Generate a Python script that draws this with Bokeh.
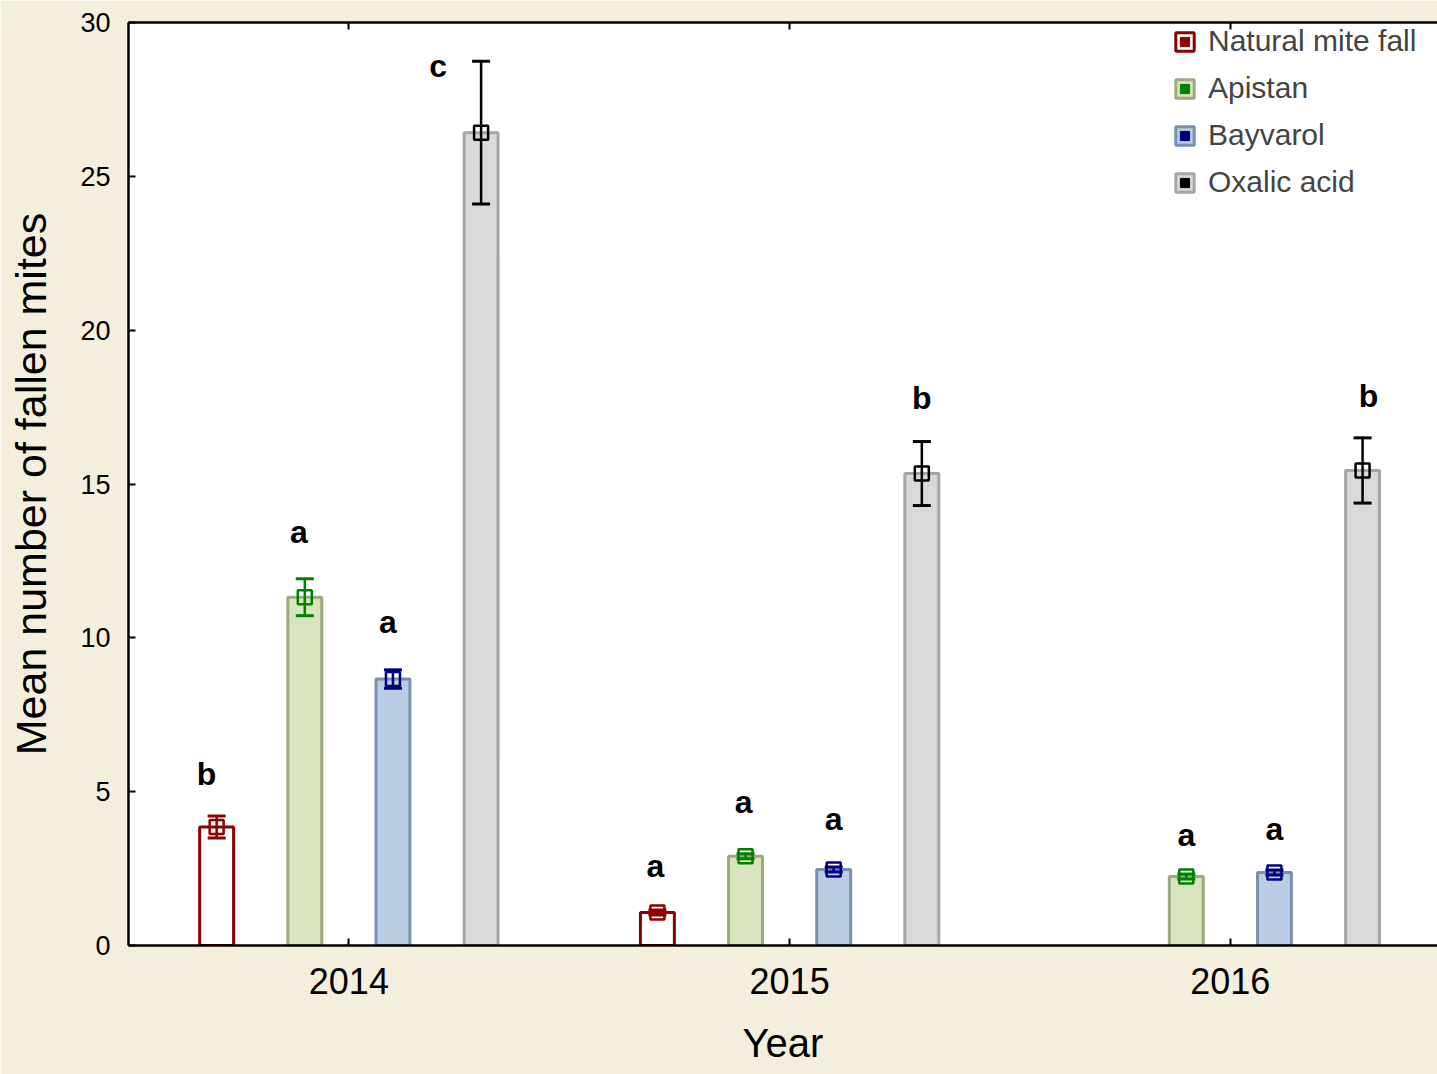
import numpy as np
from bokeh.plotting import figure
from bokeh.models import (ColumnDataSource, Range1d, FixedTicker, LinearAxis, Whisker,
                          TeeHead, Legend, LegendItem)
from bokeh.core.properties import value
from bokeh.embed import file_html
from bokeh.resources import INLINE

# ---------------- data ----------------
years = ["2014", "2015", "2016"]
treatments = ["Natural mite fall", "Apistan", "Bayvarol", "Oxalic acid"]

natural = [3.85, 1.07, np.nan]
natural_err = [0.36, 0.08, np.nan]
apistan = [11.32, 2.90, 2.24]
apistan_err = [0.60, 0.08, 0.08]
bayvarol = [8.66, 2.47, 2.37]
bayvarol_err = [0.30, 0.08, 0.08]
oxalic = [26.42, 15.34, 15.44]
oxalic_err = [2.32, 1.04, 1.06]

natural_sig = ["b", "a", ""]
apistan_sig = ["a", "a", "a"]
bayvarol_sig = ["a", "a", "a"]
oxalic_sig = ["c", "b", "b"]

# letter label heights (value units) and horizontal nudges (px)
natural_lab_y = [5.59, 2.57, np.nan]
apistan_lab_y = [13.45, 4.65, 3.60]
bayvarol_lab_y = [10.50, 4.10, 3.80]
oxalic_lab_y = [28.57, 17.78, 17.87]
natural_lab_dx = [-10, -2, 0]
apistan_lab_dx = [-6, -2, 0]
bayvarol_lab_dx = [-5, 0, 0]
oxalic_lab_dx = [-43, 0, 6]

means = [natural, apistan, bayvarol, oxalic]
errs = [natural_err, apistan_err, bayvarol_err, oxalic_err]
sigs = [natural_sig, apistan_sig, bayvarol_sig, oxalic_sig]
lab_ys = [natural_lab_y, apistan_lab_y, bayvarol_lab_y, oxalic_lab_y]
lab_dxs = [natural_lab_dx, apistan_lab_dx, bayvarol_lab_dx, oxalic_lab_dx]

# ---------------- style ----------------
offsets = [-0.3, -0.1, 0.1, 0.3]
bar_w = 0.077
fills = ["#ffffff", "#d7e4bd", "#b9cde5", "#d9d9d9"]
edges = ["#8b0000", "#9caa80", "#7b91ab", "#a6a6a6"]
markc = ["#8b0000", "#008000", "#000080", "#000000"]
FONT = "Liberation Sans"

p = figure(width=1437, height=1074, output_backend="svg", toolbar_location=None,
           x_range=Range1d(-0.5, 2.47), y_range=Range1d(0, 30),
           min_border_left=128, min_border_right=0, min_border_top=22, min_border_bottom=129)
p.border_fill_color = "#f4eedc"
p.background_fill_color = "#ffffff"
p.outline_line_color = None
p.xgrid.visible = False
p.ygrid.visible = False

idx = np.arange(len(years))
legend_items = []
for k in range(4):
    xs = idx + offsets[k]
    m = np.array(means[k], dtype=float)
    e = np.array(errs[k], dtype=float)
    src = ColumnDataSource(dict(x=xs, top=m, upper=m + e, lower=m - e,
                                sig=sigs[k], ly=lab_ys[k], dx=lab_dxs[k]))
    bars = p.vbar(x="x", top="top", bottom=0, width=bar_w, source=src,
                  fill_color=fills[k], line_color=edges[k], line_width=3)
    w = Whisker(base="x", upper="upper", lower="lower", source=src, dimension="height",
                level="overlay", line_color=markc[k], line_width=2.5,
                upper_head=TeeHead(size=18, line_color=markc[k], line_width=3),
                lower_head=TeeHead(size=18, line_color=markc[k], line_width=3))
    p.add_layout(w)
    p.scatter(x="x", y="top", source=src, marker="square", size=14,
              fill_alpha=0, line_color=markc[k], line_width=2.5, level="overlay")
    p.text(x="x", y="ly", text="sig", x_offset="dx", source=src,
           text_font=value(FONT), text_font_style="bold", text_font_size="32px",
           text_align="center", text_baseline="middle", text_color="#000000")
    # legend-only marker (placed off the visible range)
    dummy = p.scatter(x=[-5], y=[-5], marker="square", size=11,
                      fill_color=markc[k], line_color=markc[k])
    legend_items.append(LegendItem(label=treatments[k], renderers=[bars, dummy]))

legend = Legend(items=legend_items, location=(1173 - 128, 746), padding=0, margin=0,
                spacing=13, glyph_width=23, glyph_height=23, label_standoff=12,
                label_text_font=FONT, label_text_font_size="30px",
                background_fill_alpha=0, border_line_color=None)
p.add_layout(legend, "center")

# axes
for ax in [p.xaxis[0], p.yaxis[0]]:
    ax.axis_line_width = 2.5
    ax.axis_line_color = "#000000"
    ax.major_tick_in = 7
    ax.major_tick_out = 0
    ax.major_tick_line_width = 2
    ax.minor_tick_line_color = None
    ax.major_label_text_font = FONT
    ax.major_label_text_color = "#000000"
    ax.axis_label_text_font = FONT
    ax.axis_label_text_color = "#000000"
    ax.axis_label_text_font_style = "normal"

p.xaxis.ticker = FixedTicker(ticks=list(idx))
p.xaxis.major_label_overrides = {int(i): y for i, y in zip(idx, years)}
p.xaxis.major_label_text_font_size = "36px"
p.xaxis.major_label_standoff = 22
p.xaxis.axis_label = "Year"
p.xaxis.axis_label_text_font_size = "40px"
p.xaxis.axis_label_standoff = 24

p.yaxis.ticker = FixedTicker(ticks=[0, 5, 10, 15, 20, 25, 30])
p.yaxis.major_label_text_font_size = "27px"
p.yaxis.major_label_standoff = 18
p.yaxis.axis_label = "Mean number of fallen mites"
p.yaxis.axis_label_text_font_size = "43px"
p.yaxis.axis_label_standoff = 22

top_axis = LinearAxis(ticker=FixedTicker(ticks=list(idx)),
                      major_label_overrides={int(i): "" for i in idx},
                      major_label_text_font_size="10px",
                      major_tick_in=7, major_tick_out=0, major_tick_line_width=2,
                      minor_tick_line_color=None, axis_line_width=2.5)
p.add_layout(top_axis, "above")

open("out.html", "w").write(file_html(p, INLINE))
